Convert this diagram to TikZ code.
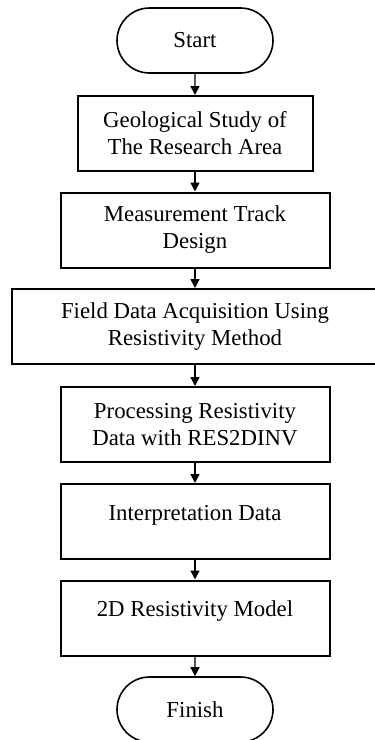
\documentclass[tikz,border=0pt]{standalone}
\usepackage{fontspec}
\setmainfont{Liberation Serif}
\usetikzlibrary{arrows.meta, shapes.misc}

\begin{document}
\begin{tikzpicture}[x=1pt, y=1pt,
  every node/.style={font=\fontsize{11.4}{13.5}\selectfont, align=center},
  box/.style={draw, line width=1pt, minimum height=37.5pt, inner sep=0pt},
  term/.style={draw, rounded rectangle, line width=0.8pt, minimum width=78pt, minimum height=32.5pt, inner sep=0pt},
  low/.style={text depth=9pt},
  >={Triangle[length=4.5pt, width=4.5pt]}]
  % page
  \useasboundingbox (0,0) rectangle (187.5,-370);
  % steps
  \node[term] (start) at (97.5,-20.25) {Start};
  \node[box, minimum width=117.5pt] (study) at (97.5,-66.75) {Geological Study of\\The Research Area};
  \node[box, minimum width=134.5pt] (track) at (97.5,-115) {Measurement Track\\Design};
  \node[box, minimum width=183pt] (acq) at (97.5,-163.25) {Field Data Acquisition Using\\Resistivity Method};
  \node[box, minimum width=134.5pt] (proc) at (97.5,-212.25) {Processing Resistivity\\Data with RES2DINV};
  \node[box, low, minimum width=134.5pt] (interp) at (97.5,-260.75) {Interpretation Data};
  \node[box, low, minimum width=134.5pt] (model) at (97.5,-309) {2D Resistivity Model};
  \node[term] (finish) at (97.5,-354.75) {Finish};
  % arrows
  \draw[->, line width=0.7pt] (start) -- (study);
  \draw[->, line width=0.7pt] (study) -- (track);
  \draw[->, line width=0.7pt] (track) -- (acq);
  \draw[->, line width=0.7pt] (acq) -- (proc);
  \draw[->, line width=0.7pt] (proc) -- (interp);
  \draw[->, line width=0.7pt] (interp) -- (model);
  \draw[->, line width=0.7pt] (model) -- (finish);
\end{tikzpicture}
\end{document}
